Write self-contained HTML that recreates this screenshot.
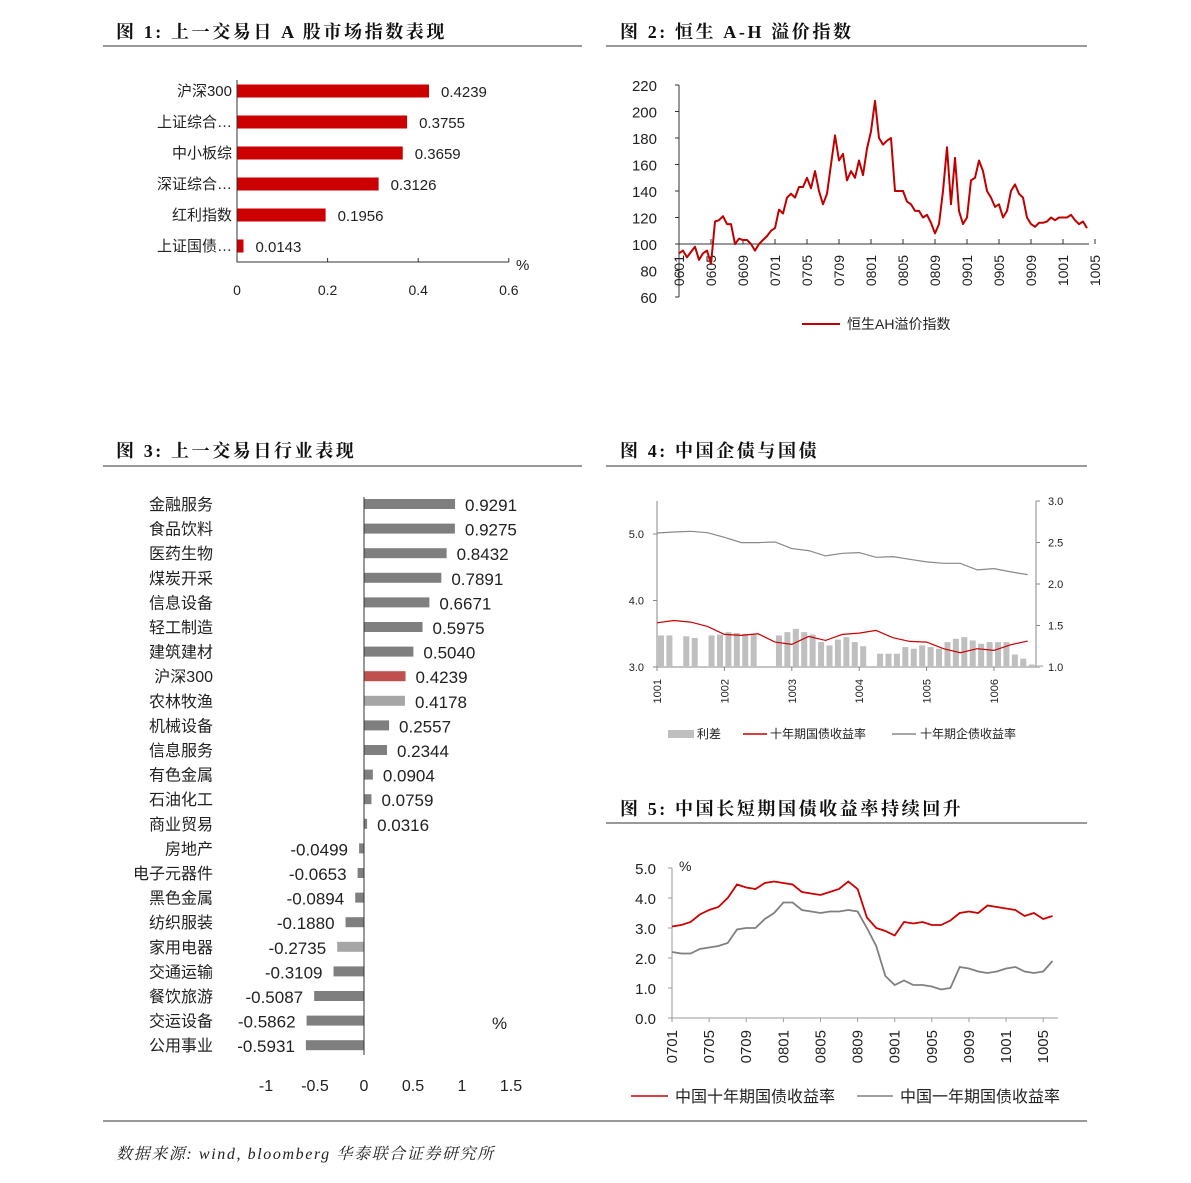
<!DOCTYPE html>
<html><head><meta charset="utf-8"><style>
html,body{margin:0;padding:0;background:#fff;}
svg{display:block;}
text{font-family:"Liberation Sans","Noto Sans CJK SC",sans-serif;fill:#222;}
.t{font-family:"Liberation Serif","Noto Serif CJK SC",serif;font-weight:bold;font-size:18px;fill:#111;letter-spacing:2.6px;}
</style></head><body>
<svg id="s" xmlns="http://www.w3.org/2000/svg" width="1191" height="1183" viewBox="0 0 1191 1183">
<text class="t" x="116" y="38">图 1: 上一交易日 A 股市场指数表现</text>
<line x1="103" y1="46" x2="582" y2="46" stroke="#333"/>
<text class="t" x="620" y="38">图 2: 恒生 A-H 溢价指数</text>
<line x1="606" y1="46" x2="1087" y2="46" stroke="#333"/>
<text class="t" x="116" y="457">图 3: 上一交易日行业表现</text>
<line x1="103" y1="466" x2="582" y2="466" stroke="#333"/>
<text class="t" x="620" y="457">图 4: 中国企债与国债</text>
<line x1="606" y1="466" x2="1087" y2="466" stroke="#333"/>
<text class="t" x="620" y="815">图 5: 中国长短期国债收益率持续回升</text>
<line x1="606" y1="823" x2="1087" y2="823" stroke="#333"/>
<line x1="103" y1="1121" x2="1087" y2="1121" stroke="#333"/>
<text x="116" y="1159" style="font-family:'Liberation Serif','Noto Serif CJK SC',serif;font-style:italic;font-size:16px;letter-spacing:1.6px">数据来源: wind, bloomberg 华泰联合证券研究所</text>
<g id="c1"></g>
<g id="c2"></g>
<g id="c3"></g>
<g id="c4"></g>
<g id="c5"></g>
</svg>
<script>
// ---- chart 1 data
const c1Cats=["沪深300","上证综合…","中小板综","深证综合…","红利指数","上证国债…"];
const c1Vals=[0.4239,0.3755,0.3659,0.3126,0.1956,0.0143];
const c1Ticks=["0","0.2","0.4","0.6"];
// ---- chart 2 data (half-month steps from 2006-01)
const c2Vals=[93,95,90,94,98,88,93,95,85,117,118,121,115,115,100,104,103,103,100,95,100,103,106,110,112,126,123,135,138,135,143,143,150,142,155,140,130,138,160,182,163,168,148,155,150,163,152,172,185,208,180,175,178,180,140,140,140,132,130,125,125,120,122,116,108,115,140,173,130,165,125,115,120,148,150,163,155,140,135,128,130,120,125,140,145,138,135,120,115,113,116,116,117,120,118,120,120,120,122,118,115,117,112];
const c2YTicks=["60","80","100","120","140","160","180","200","220"];
const c2XTicks=["0601","0605","0609","0701","0705","0709","0801","0805","0809","0901","0905","0909","1001","1005"];
// ---- chart 3 data
const c3Cats=["金融服务","食品饮料","医药生物","煤炭开采","信息设备","轻工制造","建筑建材","沪深300","农林牧渔","机械设备","信息服务","有色金属","石油化工","商业贸易","房地产","电子元器件","黑色金属","纺织服装","家用电器","交通运输","餐饮旅游","交运设备","公用事业"];
const c3Vals=[0.9291,0.9275,0.8432,0.7891,0.6671,0.5975,0.5040,0.4239,0.4178,0.2557,0.2344,0.0904,0.0759,0.0316,-0.0499,-0.0653,-0.0894,-0.1880,-0.2735,-0.3109,-0.5087,-0.5862,-0.5931];
const c3Ticks=["-1","-0.5","0","0.5","1","1.5"];
// ---- chart 4 data (quarter-month steps from 2010-01)
const c4Corp=[5.015,5.03,5.04,5.02,4.95,4.87,4.87,4.88,4.78,4.75,4.67,4.71,4.72,4.65,4.66,4.62,4.58,4.56,4.56,4.46,4.48,4.43,4.39];
const c4Gov=[3.665,3.7,3.675,3.61,3.49,3.475,3.5,3.375,3.34,3.46,3.4,3.49,3.51,3.55,3.44,3.385,3.375,3.275,3.215,3.275,3.25,3.335,3.39];
const c4Spread=[1.38,1.38,0,1.37,1.35,0,1.38,1.39,1.42,1.41,1.40,1.39,0,0,1.38,1.42,1.46,1.42,1.39,1.30,1.26,1.33,1.36,1.30,1.25,0,1.16,1.16,1.16,1.24,1.22,1.26,1.24,1.22,1.30,1.34,1.36,1.32,1.28,1.30,1.30,1.30,1.15,1.10,1.03,1.02];
const c4XTicks=["1001","1002","1003","1004","1005","1006"];
const c4LTicks=["3.0","4.0","5.0"];
const c4RTicks=["1.0","1.5","2.0","2.5","3.0"];
// ---- chart 5 data (monthly from 2007-01)
const c5Ten=[3.05,3.1,3.2,3.45,3.6,3.7,4.0,4.45,4.35,4.3,4.5,4.55,4.5,4.45,4.2,4.15,4.1,4.2,4.3,4.55,4.3,3.35,3.0,2.9,2.75,3.2,3.15,3.2,3.1,3.1,3.25,3.5,3.55,3.5,3.75,3.7,3.65,3.6,3.4,3.5,3.3,3.4];
const c5One=[2.2,2.15,2.15,2.3,2.35,2.4,2.5,2.95,3.0,3.0,3.3,3.5,3.85,3.85,3.6,3.55,3.5,3.55,3.55,3.6,3.55,3.0,2.4,1.4,1.1,1.25,1.1,1.1,1.05,0.95,1.0,1.7,1.65,1.55,1.5,1.55,1.65,1.7,1.55,1.5,1.55,1.9];
const c5YTicks=["0.0","1.0","2.0","3.0","4.0","5.0"];
const c5XTicks=["0701","0705","0709","0801","0805","0809","0901","0905","0909","1001","1005"];

const NS="http://www.w3.org/2000/svg";
function mk(p,tag,a,txt){const e=document.createElementNS(NS,tag);for(const k in a)e.setAttribute(k,a[k]);if(txt!==undefined)e.textContent=txt;p.appendChild(e);return e;}

// ===== chart 1
(function(){
const g=document.getElementById('c1');
const x=v=>237+v*453, y=i=>91+i*31;
c1Cats.forEach((c,i)=>{
 const t=mk(g,'text',{x:232,y:y(i)+5,'text-anchor':'end','font-size':15},c);
 
 
 const r=mk(g,'rect',{x:x(0),y:y(i)-6.5,width:Math.max(1,x(c1Vals[i])-x(0)),height:13,fill:'#cc0000'});
 
 
 const v=mk(g,'text',{x:x(c1Vals[i])+12,y:y(i)+6,'font-size':15,fill:'#333'},c1Vals[i].toFixed(4));
 
 
});
const ax=mk(g,'path',{d:'M237 80V262H509',stroke:'#333',fill:'none'});


c1Ticks.forEach((t,i)=>{
 const v=parseFloat(t);
 mk(g,'line',{x1:x(v),y1:262,x2:x(v),y2:258,stroke:'#333'});
 const tt=mk(g,'text',{x:x(v),y:295,'text-anchor':'middle','font-size':14},t);
 
 
});
const p=mk(g,'text',{x:516,y:270,'font-size':15},'%');


})();

// ===== chart 2
(function(){
const g=document.getElementById('c2');
const x=m=>679+m*8, y=v=>244-(v-100)*1.325;
c2YTicks.forEach(t=>{
 const v=+t;
 mk(g,'line',{x1:675,x2:679,y1:y(v),y2:y(v),stroke:'#333'});
 const e=mk(g,'text',{x:657,y:y(v)+6,'text-anchor':'end','font-size':15},t);
 
 
});
mk(g,'line',{x1:679,x2:679,y1:y(220),y2:y(60),stroke:'#333'});
const xa=mk(g,'line',{x1:679,x2:1089,y1:y(100),y2:y(100),stroke:'#333'});


c2XTicks.forEach((t,i)=>{
 const xx=x(i*4);
 mk(g,'line',{x1:xx,x2:xx,y1:y(100),y2:y(100)-5,stroke:'#333'});
 const e=mk(g,'text',{x:0,y:0,'text-anchor':'end','font-size':14,transform:`translate(${xx+5},255) rotate(-90)`},t);
 
 
});
const d=c2Vals.map((v,i)=>(i?'L':'M')+x(i*0.5).toFixed(1)+' '+y(v).toFixed(1)).join('');
const l=mk(g,'path',{d:d,stroke:'#c00000','stroke-width':2,fill:'none','stroke-linejoin':'round'});


mk(g,'line',{x1:802,x2:840,y1:324,y2:324,stroke:'#c00000','stroke-width':2});
const lg=mk(g,'text',{x:847,y:329,'font-size':14},'恒生AH溢价指数');


})();

// ===== chart 3
(function(){
const g=document.getElementById('c3');
const x=v=>364+v*98, y=i=>504+i*24.6;
c3Cats.forEach((c,i)=>{
 const v=c3Vals[i];
 const t=mk(g,'text',{x:213,y:y(i)+6,'text-anchor':'end','font-size':16},c);
 
 
 let col='#7f7f7f'; if(c==='沪深300')col='#c0504d'; else if(c==='农林牧渔'||c==='家用电器')col='#a6a6a6';
 const r=mk(g,'rect',{x:Math.min(x(0),x(v)),y:y(i)-5,width:Math.abs(x(v)-x(0)),height:10,fill:col});
 
 
 const lab=v>=0?mk(g,'text',{x:x(v)+10,y:y(i)+7,'font-size':17},v.toFixed(4)):mk(g,'text',{x:Math.min(348,x(v)-11),y:y(i)+7,'font-size':17,'text-anchor':'end'},v.toFixed(4));
 
 
});
const ax=mk(g,'line',{x1:364,x2:364,y1:497,y2:1055,stroke:'#333'});


c3Ticks.forEach(t=>{
 const e=mk(g,'text',{x:x(+t),y:1091,'text-anchor':'middle','font-size':16},t);
 
 
});
const p=mk(g,'text',{x:492,y:1029,'font-size':17},'%');


})();

// ===== chart 4
(function(){
const g=document.getElementById('c4');
const x=t=>657+t*67.4, yl=v=>667-(v-3)*66.5, yr=v=>667-(v-1)*83;
mk(g,'line',{x1:657,x2:657,y1:501,y2:667,stroke:'#888'});
mk(g,'line',{x1:1036,x2:1036,y1:501,y2:667,stroke:'#888'});
mk(g,'line',{x1:657,x2:1036,y1:667,y2:667,stroke:'#888'});
c4LTicks.forEach(t=>{mk(g,'line',{x1:653,x2:657,y1:yl(+t),y2:yl(+t),stroke:'#888'});
 const e=mk(g,'text',{x:644,y:yl(+t)+4,'text-anchor':'end','font-size':11},t);
 
 });
c4RTicks.forEach(t=>{mk(g,'line',{x1:1036,x2:1040,y1:yr(+t),y2:yr(+t),stroke:'#888'});
 const e=mk(g,'text',{x:1048,y:yr(+t)+4,'font-size':11},t);
 
 });
c4XTicks.forEach((t,i)=>{mk(g,'line',{x1:x(i),x2:x(i),y1:667,y2:671,stroke:'#888'});
 const e=mk(g,'text',{x:0,y:0,'text-anchor':'end','font-size':11,transform:`translate(${x(i)+4},679) rotate(-90)`},t);
 
 });
c4Spread.forEach((v,i)=>{ if(v<=1)return;
 const r=mk(g,'rect',{x:x(i*0.125)+1,y:yr(v),width:6,height:yr(1)-yr(v),fill:'#bfbfbf'});
 
 });
const path=(arr,f)=>arr.map((v,i)=>(i?'L':'M')+x(Math.min(i*0.25,5.62)).toFixed(1)+' '+f(v).toFixed(1)).join('');
const l1=mk(g,'path',{d:path(c4Corp,yl),stroke:'#888','stroke-width':1.2,fill:'none'});


const l2=mk(g,'path',{d:path(c4Gov,yl),stroke:'#cc0000','stroke-width':1.2,fill:'none'});


mk(g,'rect',{x:668,y:730,width:26,height:8,fill:'#bfbfbf'});
let e=mk(g,'text',{x:697,y:738,'font-size':12,fill:'#555'},'利差');


mk(g,'line',{x1:743,x2:767,y1:734,y2:734,stroke:'#cc0000','stroke-width':1.5});
e=mk(g,'text',{x:770,y:738,'font-size':12,fill:'#555'},'十年期国债收益率');


mk(g,'line',{x1:892,x2:916,y1:734,y2:734,stroke:'#888','stroke-width':1.5});
e=mk(g,'text',{x:920,y:738,'font-size':12,fill:'#555'},'十年期企债收益率');


})();

// ===== chart 5
(function(){
const g=document.getElementById('c5');
const x=m=>672+m*9.28, y=v=>1018-v*30;
mk(g,'line',{x1:672,x2:672,y1:868,y2:1018,stroke:'#999'});
mk(g,'line',{x1:668,x2:1058,y1:1018,y2:1018,stroke:'#999'});
c5YTicks.forEach(t=>{mk(g,'line',{x1:668,x2:672,y1:y(+t),y2:y(+t),stroke:'#999'});
 const e=mk(g,'text',{x:656,y:y(+t)+6,'text-anchor':'end','font-size':15},t);
 
 });
c5XTicks.forEach((t,i)=>{mk(g,'line',{x1:x(i*4),x2:x(i*4),y1:1018,y2:1022,stroke:'#999'});
 const e=mk(g,'text',{x:0,y:0,'text-anchor':'end','font-size':15,transform:`translate(${x(i*4)+5},1030) rotate(-90)`},t);
 
 });
const u=mk(g,'text',{x:679,y:871,'font-size':14},'%');


const path=arr=>arr.map((v,i)=>(i?'L':'M')+x(Math.min(i,41.6)).toFixed(1)+' '+y(v).toFixed(1)).join('');
const l1=mk(g,'path',{d:path(c5One),stroke:'#808080','stroke-width':1.8,fill:'none'});


const l2=mk(g,'path',{d:path(c5Ten),stroke:'#cc0000','stroke-width':1.8,fill:'none'});


mk(g,'line',{x1:631,x2:668,y1:1096,y2:1096,stroke:'#cc0000','stroke-width':1.5});
let e=mk(g,'text',{x:675,y:1102,'font-size':16,fill:'#333'},'中国十年期国债收益率');


mk(g,'line',{x1:857,x2:893,y1:1096,y2:1096,stroke:'#808080','stroke-width':1.5});
e=mk(g,'text',{x:900,y:1102,'font-size':16,fill:'#333'},'中国一年期国债收益率');


})();
</script>
</body></html>
